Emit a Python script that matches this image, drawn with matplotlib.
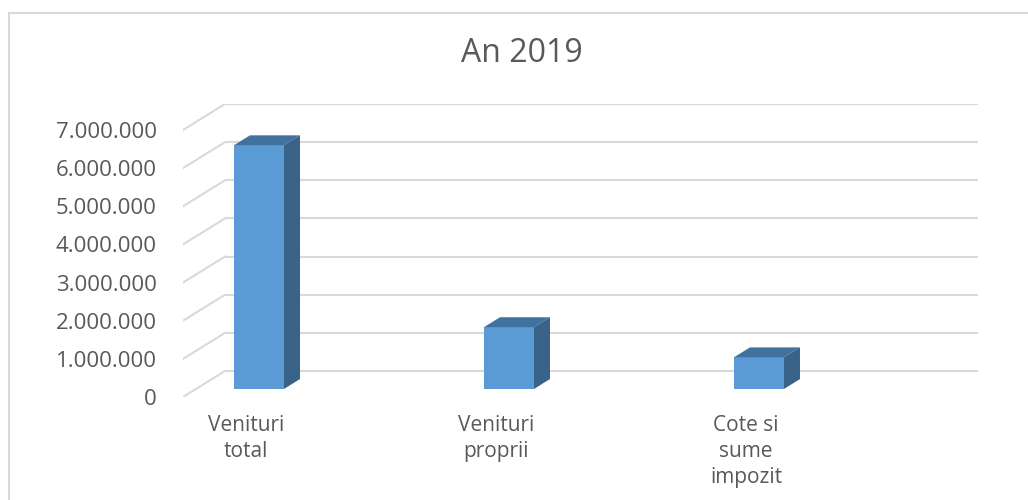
import numpy as np
import matplotlib
matplotlib.use("Agg")
import matplotlib.pyplot as plt
from matplotlib.patches import Polygon, Rectangle

plt.rcParams['font.family'] = ['Open Sans', 'DejaVu Sans']

title = "An 2019"
categories = ["Venituri\ntotal", "Venituri\nproprii", "Cote si\nsume\nimpozit"]
values = [6390000, 1620000, 830000]
yticks = [0, 1000000, 2000000, 3000000, 4000000, 5000000, 6000000, 7000000]

text_color = "#595959"
grid_color = "#d9d9d9"
face_color = "#5b9bd5"
top_color = "#41729f"
side_color = "#386286"

# pseudo 3d geometry (category units / value units)
xmin, xmax = -0.252, 2.928
ymax = 7.682e6
back_dx, back_dy = 0.168, 0.682e6
bar_w = 0.2
bar_f0, bar_depth = 0.31, 0.38

fig = plt.figure(figsize=(10.28, 5.0), dpi=100)
ax = fig.add_axes([183 / 1028, 103 / 500, (978 - 183) / 1028, (397 - 104) / 500])
ax.set_xlim(xmin, xmax)
ax.set_ylim(0, ymax)

# back wall gridlines and side wall diagonals
for v in yticks:
    ax.plot([xmin + back_dx, xmax], [v + back_dy, v + back_dy], color=grid_color, lw=1.5,
            solid_capstyle="butt", zorder=1)
    ax.plot([xmin, xmin + back_dx], [v, v + back_dy], color=grid_color, lw=1.5, zorder=1)

# bars
for i, v in enumerate(values):
    x0 = i - bar_w / 2 + bar_f0 * back_dx
    y0 = bar_f0 * back_dy
    ddx, ddy = bar_depth * back_dx, bar_depth * back_dy
    ax.add_patch(Rectangle((x0, y0), bar_w, v, facecolor=face_color, edgecolor="none", zorder=3))
    ax.add_patch(Polygon([(x0, y0 + v), (x0 + bar_w, y0 + v), (x0 + bar_w + ddx, y0 + v + ddy),
                          (x0 + ddx, y0 + v + ddy)], closed=True, facecolor=top_color,
                         edgecolor="none", zorder=3))
    ax.add_patch(Polygon([(x0 + bar_w, y0), (x0 + bar_w + ddx, y0 + ddy),
                          (x0 + bar_w + ddx, y0 + v + ddy), (x0 + bar_w, y0 + v)], closed=True,
                         facecolor=side_color, edgecolor="none", zorder=3))

ax.set_yticks(yticks)
ax.set_yticklabels([f"{t:,}".replace(",", ".") for t in yticks], fontsize=16, color=text_color)
ax.set_xticks(range(len(categories)))
ax.set_xticklabels(categories, fontsize=15, color=text_color, linespacing=1.3, va="top")
ax.tick_params(axis="y", length=0, pad=19)
ax.tick_params(axis="x", length=0, pad=13)
for s in ax.spines.values():
    s.set_visible(False)

fig.text(522 / 1028, 1 - 53 / 500, title, ha="center", va="center", fontsize=23, color=text_color)

# chart border
fig.patches.append(Rectangle((9 / 1028, -0.1), 1.2, 1 - 13 / 500 + 0.1, transform=fig.transFigure,
                             fill=False, edgecolor=grid_color, lw=1.5))

fig.savefig("out.png", dpi=100)
